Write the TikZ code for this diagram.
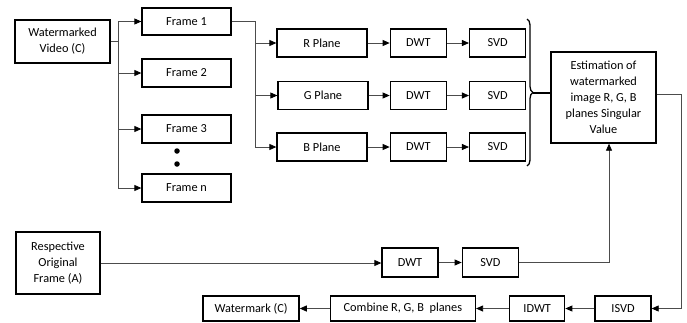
\documentclass[tikz,border=0pt]{standalone}
\usepackage{fontspec}
\setmainfont{Carlito}
\usetikzlibrary{positioning,arrows.meta,decorations.pathreplacing}

\begin{document}
\begin{tikzpicture}[x=1pt,y=-1pt,node distance=22pt,
	blk/.style={draw,line width=1.3pt,minimum height=28pt,inner sep=2pt,align=center,font=\fontsize{12.3}{16}\selectfont},
	dot/.style={circle,fill,inner sep=0pt,minimum size=5.5pt},
	con/.style={draw=black!70,line width=0.8pt,-{Triangle[length=7pt,width=6pt,color=black]}}]
\useasboundingbox (0,0) rectangle (687,322);

\node[blk,minimum width=95pt,minimum height=43pt](wv) at (62.5,41.5){Watermarked\\Video (C)};
\node[blk,minimum width=89pt,minimum height=27pt](f1) at (186.5,21.5){Frame 1};
\node[blk,minimum width=89pt](f2) at (186.5,73){Frame 2};
\node[blk,minimum width=89pt](f3) at (186.5,129){Frame 3};
\node[dot](d1) at (177,151){};
\node[dot](d2) at (177,164){};
\node[blk,minimum width=89pt](fn) at (186.5,188){Frame n};

\node[blk,minimum width=90pt](rp) at (322,43){R Plane};
\node[blk,minimum width=56pt](rd)[right=of rp]{DWT};
\node[blk,minimum width=56pt](rs)[right=of rd]{SVD};
\node[blk,minimum width=90pt](gp) at (323,95.5){G Plane};
\node[blk,minimum width=56pt](gd)[right=of gp,xshift=-1pt]{DWT};
\node[blk,minimum width=56pt](gs)[right=of gd]{SVD};
\node[blk,minimum width=90pt](bp) at (322,147){B Plane};
\node[blk,minimum width=56pt](bd)[right=of bp]{DWT};
\node[blk,minimum width=56pt](bs)[right=of bd]{SVD};

\node[blk,minimum width=105pt,minimum height=91pt](est) at (603.5,97.5){Estimation of\\watermarked\\image R, G, B\\planes Singular\\Value};

\node[blk,minimum width=84pt,minimum height=62pt](ro) at (58,263){Respective\\Original\\Frame (A)};
\node[blk,minimum width=56pt,minimum height=29pt](od) at (410,262.5){DWT};
\node[blk,minimum width=56pt,minimum height=29pt](os)[right=23pt of od]{SVD};

\node[blk,minimum width=56pt,minimum height=25pt](isvd) at (623,308.5){ISVD};
\node[blk,minimum width=55pt,minimum height=25pt](idwt)[left=29pt of isvd]{IDWT};
\node[blk,minimum width=145pt,minimum height=25pt](cb)[left=33pt of idwt]{Combine R, G, B~ planes};
\node[blk,minimum width=96pt,minimum height=25pt](wm)[left=30pt of cb]{Watermark (C)};

\coordinate (s1) at ([xshift=8pt]wv.east);
\coordinate (s2) at ([xshift=24pt]f1.east);
\coordinate (bt) at (533,93);

\draw[draw=black!70,line width=0.8pt] (wv.east) -- (s1);
\foreach \f in {f1,f2,f3,fn}
	\draw[con] (s1) |- (\f.west);
\draw[draw=black!70,line width=0.8pt] (f1.east) -- (s2);
\foreach \p in {rp,gp,bp}
	\draw[con] (s2) |- (\p.west);
\draw[con] (rp) -- (rd);
\draw[con] (rd) -- (rs);
\draw[con] (gp) -- (gd);
\draw[con] (gd) -- (gs);
\draw[con] (bp) -- (bd);
\draw[con] (bd) -- (bs);

\draw[decorate,decoration={brace,amplitude=6pt},line width=1.3pt] (527,19) -- (527,166);
\draw[line width=1.3pt] (bt) -- (bt -| est.west);

\draw[con] (ro.east) -- (ro.east -| od.west);
\draw[con] (od) -- (os);
\draw[con] (os.east) -| ([xshift=5.5pt]est.south);
\draw[con] ([yshift=3.5pt]est.east) -- ++(25,0) |- (isvd.east);
\draw[con] (isvd) -- (idwt);
\draw[con] (idwt) -- (cb);
\draw[con] (cb) -- (wm);

\end{tikzpicture}
\end{document}
